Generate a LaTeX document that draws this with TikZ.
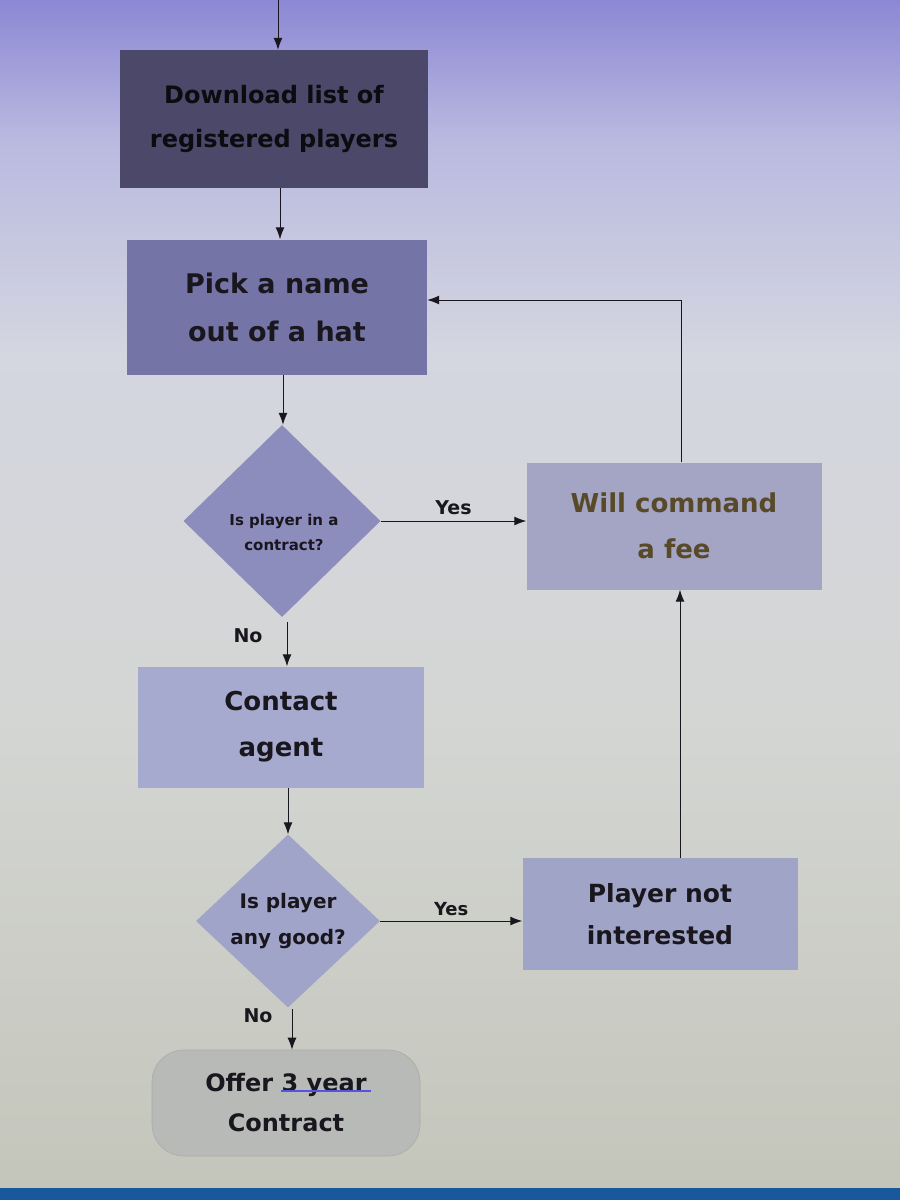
\documentclass[tikz,border=0pt]{standalone}
\usepackage{fontspec}
\setmainfont{DejaVu Sans}
\usetikzlibrary{shapes.geometric,arrows.meta,calc}
\definecolor{bgtop}{RGB}{140,136,212}
\definecolor{bgupper}{RGB}{186,186,224}
\definecolor{bgmid}{RGB}{212,214,224}
\definecolor{bglow}{RGB}{212,214,212}
\definecolor{bgbot}{RGB}{196,197,186}
\definecolor{cbox1}{RGB}{76,72,106}
\definecolor{cbox2}{RGB}{116,116,166}
\definecolor{cdia1}{RGB}{140,141,188}
\definecolor{cbox3}{RGB}{164,164,196}
\definecolor{cbox4}{RGB}{166,170,206}
\definecolor{cdia2}{RGB}{160,164,200}
\definecolor{cbox5}{RGB}{160,164,198}
\definecolor{cbox6}{RGB}{184,186,184}
\definecolor{olivetext}{RGB}{88,74,40}
\definecolor{ink}{RGB}{25,22,30}
\definecolor{stripblue}{RGB}{26,88,158}
\pgfdeclareverticalshading{screenbg}{100bp}{
  color(0bp)=(bgbot); color(25bp)=(bgbot); color(45bp)=(bglow);
  color(60bp)=(bgmid); color(69bp)=(bgupper); color(75bp)=(bgtop); color(100bp)=(bgtop)}
\tikzset{
  boxstyle/.style={rectangle, draw=none, inner sep=2pt, align=center, text=ink, font=\bfseries},
  diastyle/.style={diamond, draw=none, inner sep=0pt, align=center, text=ink, font=\bfseries},
  arr/.style={draw=ink, line width=1pt, -{Latex[length=12pt,width=9pt]}},
  lbl/.style={text=ink, font=\bfseries\fontsize{19}{22}\selectfont}
}
\begin{document}
\begin{tikzpicture}[x=1pt,y=-1pt]
\useasboundingbox (0,0) rectangle (900,1200);
\shade[shading=screenbg] (0,0) rectangle (900,1188);
\fill[stripblue] (0,1188) rectangle (900,1200);

% nodes
\node[boxstyle, fill=cbox1, minimum width=308pt, minimum height=138pt,
  font=\bfseries\fontsize{24}{44}\selectfont, text=black!85!cbox1] (b1) at (274,119)
  {Download list of\\registered players};
\node[boxstyle, fill=cbox2, minimum width=300pt, minimum height=135pt,
  font=\bfseries\fontsize{27}{48}\selectfont] (b2) at (277,307)
  {Pick a name\\out of a hat};
\node[diastyle, fill=cdia1, minimum width=197pt, minimum height=192pt] (d1) at (282,521) {};
\node[align=center, text=ink, font=\bfseries\fontsize{15}{25}\selectfont] (d1t) at (284,532)
  {Is player in a\\contract?};
\node[boxstyle, fill=cbox3, minimum width=295pt, minimum height=127pt,
  font=\bfseries\fontsize{26}{46}\selectfont, text=olivetext] (b3) at (674,526)
  {Will command\\a fee};
\node[boxstyle, fill=cbox4, minimum width=286pt, minimum height=121pt,
  font=\bfseries\fontsize{26}{46}\selectfont] (b4) at (281,727)
  {Contact\\agent};
\node[diastyle, fill=cdia2, minimum width=184pt, minimum height=173pt,
  font=\bfseries\fontsize{20}{36}\selectfont] (d2) at (288,921)
  {Is player\\any good?};
\node[boxstyle, fill=cbox5, minimum width=275pt, minimum height=112pt,
  font=\bfseries\fontsize{25}{42}\selectfont] (b5) at (660,914)
  {Player not\\interested};
\node[boxstyle, fill=cbox6, draw=cbox6!92!black, line width=0.6pt, rounded corners=32pt,
  minimum width=268pt, minimum height=106pt,
  font=\bfseries\fontsize{24}{40}\selectfont] (b6) at (286,1103)
  {Offer 3 year\\Contract};
\draw[draw=blue!55!cbox6, line width=2pt] (281,1091) -- (371,1091);

% connectors
\coordinate (topstart) at (278,0);
\draw[arr] (topstart) -- (topstart |- b1.north);
\draw[arr] (b1.south -| 280,0) -- (b2.north -| 280,0);
\draw[arr] (b2.south -| 283,0) -- (d1.north -| 283,0);
\draw[arr] (d1.east) -- node[lbl, above=2pt] {Yes} (d1.east -| b3.west);
\draw[arr] (b3.north -| 681,0) |- ([yshift=7pt]b2.east);
\coordinate (d1no) at (287,622);
\draw[arr] (d1no) -- (d1no |- b4.north);
\node[lbl] (no1) at (248,636) {No};
\draw[arr] (b4.south -| 288,0) -- (d2.north -| 288,0);
\draw[arr] (d2.east) -- node[lbl, above=1pt, font=\bfseries\fontsize{18}{20}\selectfont] {Yes} (d2.east -| b5.west);
\draw[arr] (b5.north -| 680,0) -- (b3.south -| 680,0);
\coordinate (d2no) at (292,1009);
\draw[arr] (d2no) -- (d2no |- b6.north);
\node[lbl] (no2) at (258,1016) {No};
\end{tikzpicture}
\end{document}
